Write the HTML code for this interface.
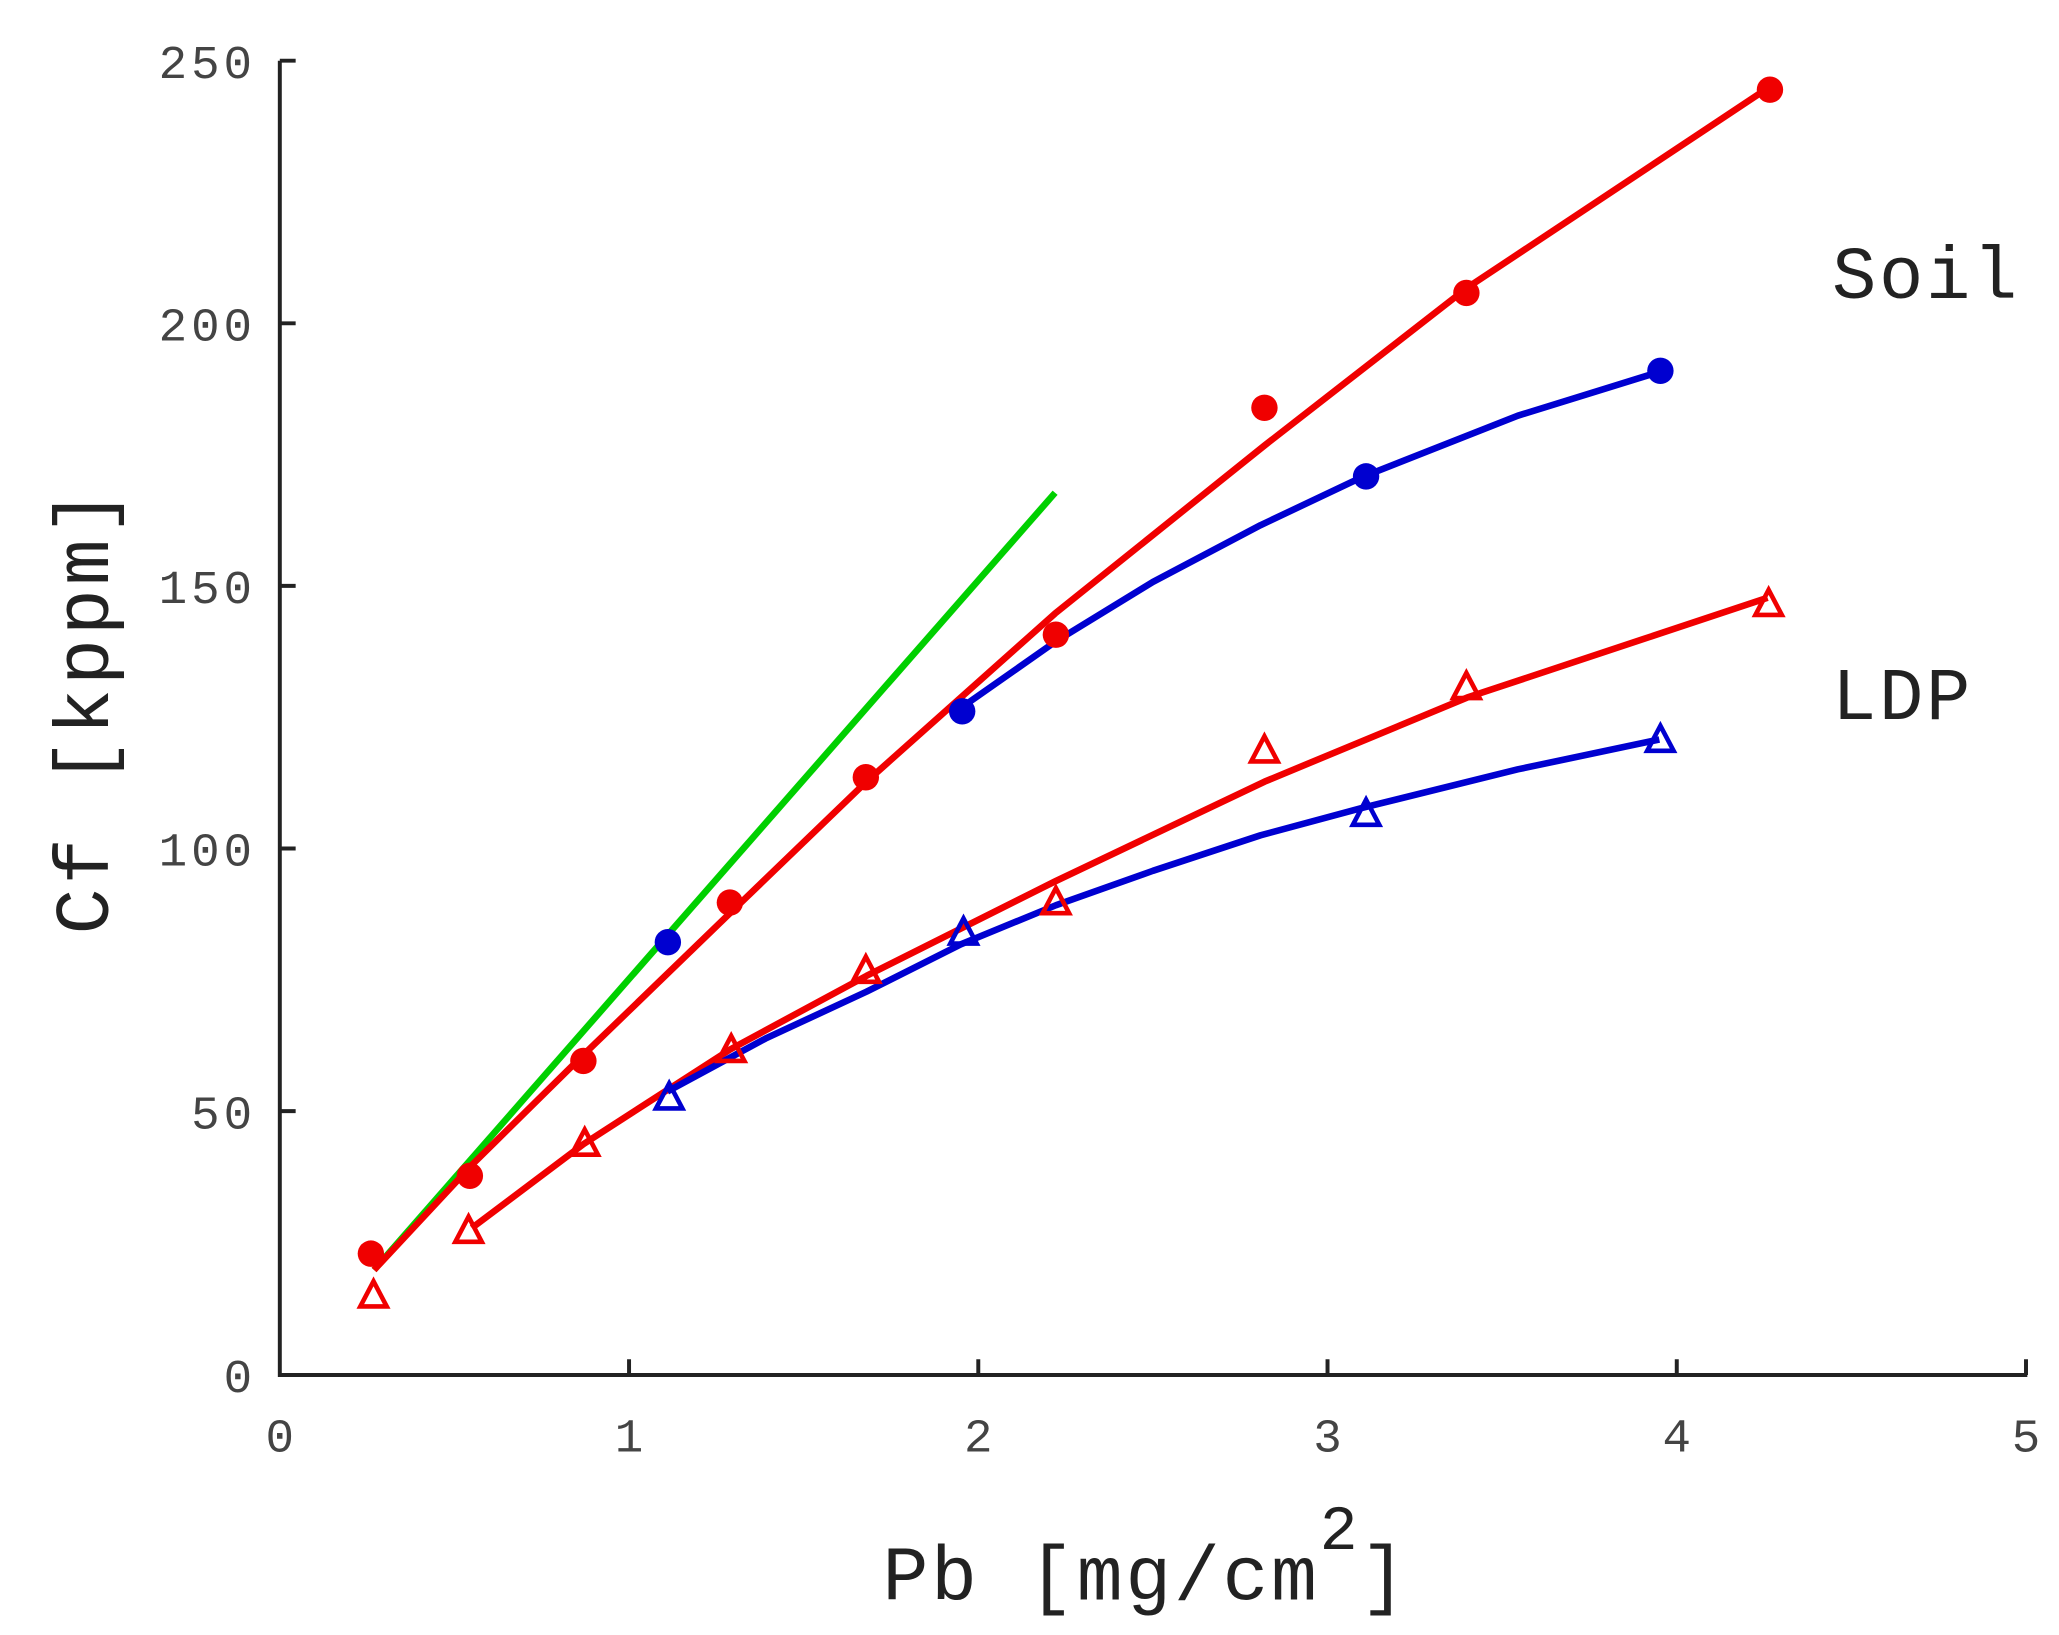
<!DOCTYPE html>
<html><head><meta charset="utf-8"><style>html,body{margin:0;padding:0;background:#fff}svg{display:block}</style></head><body>
<svg width="2059" height="1635" viewBox="0 0 1560 1239" preserveAspectRatio="none" xmlns="http://www.w3.org/2000/svg">
<g stroke="#222" stroke-width="3" fill="none">
<path d="M212,46 V1042 H1536"/>
<path d="M212,46 h12 M212,245 h12 M212,444 h12 M212,643 h12 M212,842 h12"/>
<path d="M476.6,1042 v-12 M741.2,1042 v-12 M1005.8,1042 v-12 M1270.4,1042 v-12 M1535,1042 v-12"/>
</g>
<g font-family="Liberation Mono, monospace" font-size="36" fill="#444" text-anchor="end" letter-spacing="3">
<text x="194" y="59">250</text><text x="194" y="258">200</text><text x="194" y="457">150</text><text x="194" y="656">100</text><text x="194" y="855">50</text><text x="194" y="1055">0</text>
</g>
<g font-family="Liberation Mono, monospace" font-size="36" fill="#444" text-anchor="middle">
<text x="212" y="1100">0</text><text x="476.6" y="1100">1</text><text x="741.2" y="1100">2</text><text x="1005.8" y="1100">3</text><text x="1270.4" y="1100">4</text><text x="1535" y="1100">5</text>
</g>
<text x="868" y="1212" font-family="Liberation Mono, monospace" font-size="58" fill="#222" text-anchor="middle" letter-spacing="2">Pb [mg/cm<tspan font-size="48" dy="-38">2</tspan><tspan dy="38">]</tspan></text>
<text transform="translate(82,538) rotate(-90)" font-family="Liberation Mono, monospace" font-size="58" fill="#222" text-anchor="middle" letter-spacing="3">Cf [kppm]</text>
<text x="1388" y="226" font-family="Liberation Mono, monospace" font-size="56" fill="#222" letter-spacing="2">Soil</text>
<text x="1388" y="545" font-family="Liberation Mono, monospace" font-size="56" fill="#222" letter-spacing="2">LDP</text>
<g fill="none" stroke-width="5" stroke-linejoin="round">
<polyline stroke="#00d000" points="283.4,962.4 799.4,373.4"/>
<polyline stroke="#f00000" points="283.4,962.4 357.5,882.8 442.2,799.2 553.3,691.8 656.5,592.3 799.4,464.9 958.2,337.5 1111.6,218.1 1339.2,66.9"/>
<polyline stroke="#0000d0" points="728,536.5 800,486 873.5,441 955,398 1032.3,361.4 1150,315 1257.2,281.8"/>
<polyline stroke="#f00000" points="357.5,930.6 442.2,866.9 553.3,795.2 656.5,739.5 799.4,667.9 958.2,592.3 1111.6,528.6 1339.2,453"/>
<polyline stroke="#0000d0" points="505.7,827.1 580,787 656.5,751.5 728,715.6 800,686 873.5,659.9 955,633 1032.3,612.2 1150,583 1257.2,560.4"/>
</g>
<g fill="#f00000">
<circle cx="281" cy="950" r="10"/><circle cx="356" cy="891" r="10"/><circle cx="442" cy="804" r="10"/><circle cx="553" cy="684" r="10"/><circle cx="656" cy="589" r="10"/><circle cx="800" cy="481" r="10"/><circle cx="958" cy="309" r="10"/><circle cx="1111" cy="222" r="10"/><circle cx="1341" cy="68" r="10"/>
</g>
<g fill="#0000d0">
<circle cx="506" cy="714" r="10"/><circle cx="729" cy="539" r="10"/><circle cx="1035" cy="361" r="10"/><circle cx="1258" cy="281" r="10"/>
</g>
<g fill="none" stroke="#f00000" stroke-width="3.5">
<path d="M283,971 l-10,19 h20z"/><path d="M355,922 l-10,19 h20z"/><path d="M443,856 l-10,19 h20z"/><path d="M554,785 l-10,19 h20z"/><path d="M656,725 l-10,19 h20z"/><path d="M800,673 l-10,19 h20z"/><path d="M958,558 l-10,19 h20z"/><path d="M1111,510 l-10,19 h20z"/><path d="M1340,447 l-10,19 h20z"/>
</g>
<g fill="none" stroke="#0000d0" stroke-width="3.5">
<path d="M507,821 l-10,19 h20z"/><path d="M730,696 l-10,19 h20z"/><path d="M1035,606 l-10,19 h20z"/><path d="M1258,550 l-10,19 h20z"/>
</g>
</svg>
</body></html>
